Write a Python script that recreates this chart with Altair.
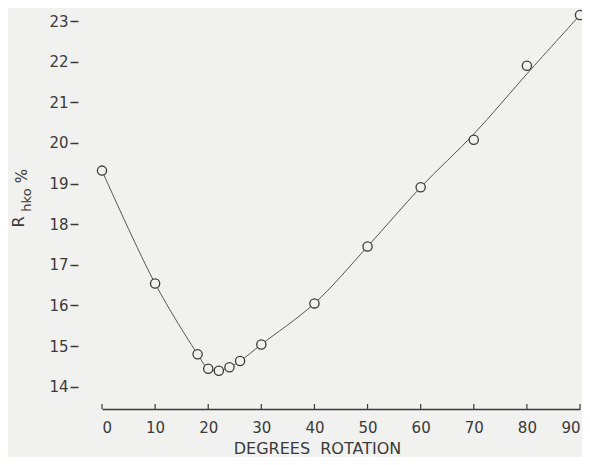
import altair as alt
import pandas as pd

# measured points
deg = [0, 10, 18, 20, 22, 24, 26, 30, 40, 50, 60, 70, 80, 90]
rhko = [19.32, 16.54, 14.80, 14.44, 14.39, 14.48, 14.63, 15.04, 16.05, 17.45, 18.91, 20.08, 21.90, 23.15]
# smooth curve drawn through the points
curve_deg = [0, 10, 18, 20, 22, 24, 26, 30, 40, 50, 60, 70, 80, 90]
curve_val = [19.32, 16.54, 14.80, 14.44, 14.39, 14.48, 14.63, 15.04, 16.05, 17.45, 18.91, 20.22, 21.70, 23.15]
x_ticks = [0, 10, 20, 30, 40, 50, 60, 70, 80, 90]
y_ticks = [14, 15, 16, 17, 18, 19, 20, 21, 22, 23]

BG = "#f1f1ef"
INK = "#3a3a3a"
FONT = "DejaVu Sans"

pts = pd.DataFrame({"deg": deg, "r": rhko})
crv = pd.DataFrame({"deg": curve_deg, "r": curve_val})
tk = pd.DataFrame({"t": x_ticks})

xs = alt.Scale(domain=[0, 90], nice=False, zero=False)
ys = alt.Scale(domain=[13.45, 23.25], nice=False, zero=False)

xaxis = alt.Axis(values=x_ticks, ticks=False, grid=False, domainColor=INK, domainWidth=1.5,
                 labelFont=FONT, labelFontSize=15, labelColor=INK, labelPadding=11,
                 title="DEGREES\u00a0\u00a0ROTATION", titleFont=FONT, titleFontSize=16, titleFontWeight="normal",
                 titleColor=INK, titleX=215, titleY=47, titleAnchor="middle", titleBaseline="bottom")
yaxis = alt.Axis(values=y_ticks, domain=False, grid=False, offset=24, tickSize=8, tickWidth=1.5,
                 tickColor=INK, labelFont=FONT, labelFontSize=15, labelColor=INK, labelPadding=2,
                 title=None)

line = alt.Chart(crv).mark_line(interpolate="catmull-rom", color="#555555", strokeWidth=1).encode(
    x=alt.X("deg:Q", scale=xs, axis=xaxis),
    y=alt.Y("r:Q", scale=ys, axis=yaxis),
)
points = alt.Chart(pts).mark_point(shape="circle", size=85, filled=False, fill=BG, fillOpacity=1,
                                   stroke=INK, strokeWidth=1.3, opacity=1).encode(
    x=alt.X("deg:Q", scale=xs),
    y=alt.Y("r:Q", scale=ys),
)
ticks = alt.Chart(tk).mark_rule(color=INK, strokeWidth=1.2).encode(
    x=alt.X("t:Q", scale=xs),
    y=alt.value(398), y2=alt.value(393),
)

one = alt.Data(values=[{"a": 1}])
t_r = alt.Chart(one).mark_text(text="R", angle=270, font=FONT, fontSize=16, color=INK,
                               align="center", baseline="middle").encode(x=alt.value(-83), y=alt.value(211))
t_hko = alt.Chart(one).mark_text(text="hko", angle=270, font=FONT, fontSize=13, color=INK,
                                 align="center", baseline="middle").encode(x=alt.value(-75), y=alt.value(189))
t_pc = alt.Chart(one).mark_text(text="%", angle=270, font=FONT, fontSize=15, color=INK,
                                align="center", baseline="middle").encode(x=alt.value(-80), y=alt.value(165))

chart = alt.layer(line, ticks, points, t_r, t_hko, t_pc).properties(
    width=478, height=398,
    autosize=alt.AutoSizeParams(type="none"),
    padding={"left": 94, "top": 3, "right": 2, "bottom": 48},
    background=BG,
).configure_view(stroke=None)

chart.save("out.html", embed_options={"renderer": "svg", "actions": False})
